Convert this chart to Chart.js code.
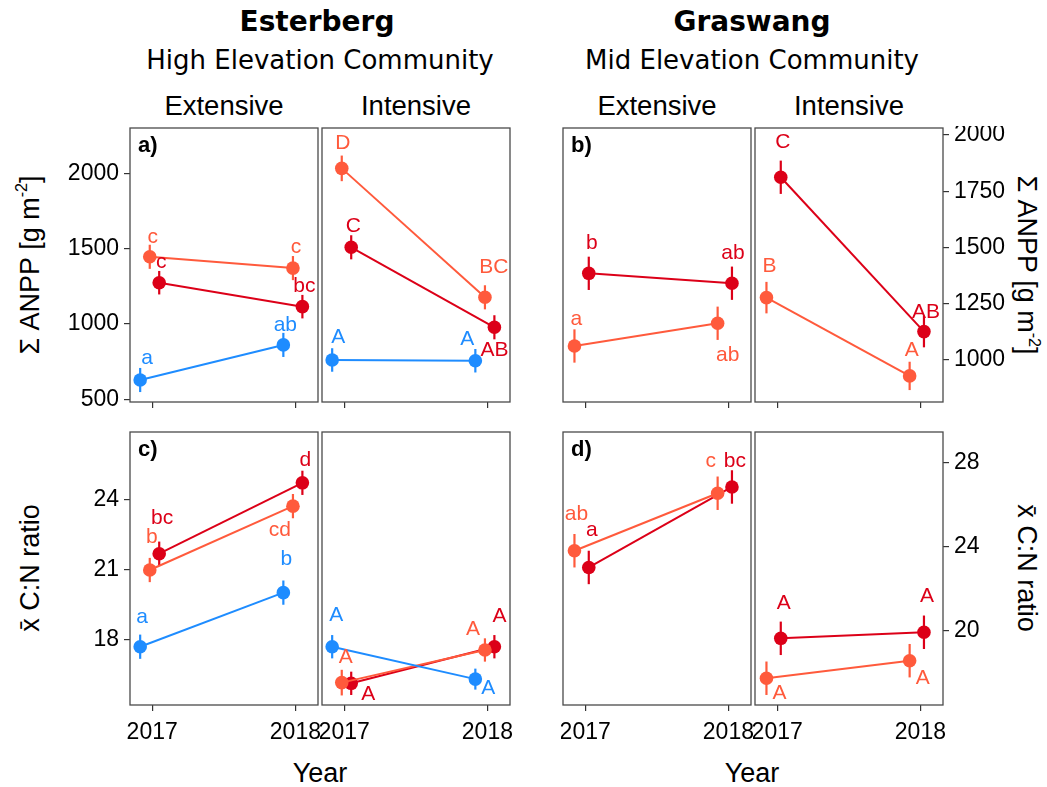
<!DOCTYPE html>
<html>
<head>
<meta charset="utf-8">
<script src="https://cdn.jsdelivr.net/npm/chart.js@4.4.0/dist/chart.umd.min.js"></script>
<style>
  body { margin: 0; background: #fff; width: 1047px; height: 787px; position: relative; overflow: hidden;
         font-family: "Liberation Sans", Arial, sans-serif; color: #000; }
  .t { position: absolute; white-space: nowrap; transform: translate(-50%, -50%); line-height: 1; }
  .title { font-family: "DejaVu Sans", sans-serif; font-weight: bold; font-size: 28px; }
  .sub { font-family: "DejaVu Sans", sans-serif; font-size: 26px; }
  .strip { font-size: 27.5px; }
  .ax { font-size: 27px; }
  .rotL { transform: translate(-50%, -50%) rotate(-90deg); }
  .rotR { transform: translate(-50%, -50%) rotate(90deg); }
  sup { font-size: 60%; vertical-align: 0.7em; line-height: 0; }
  canvas { position: absolute; }
</style>
</head>
<body>
<div class="t title" style="left:317px;top:22px">Esterberg</div>
<div class="t sub" style="left:320px;top:60px">High Elevation Community</div>
<div class="t title" style="left:752px;top:22px">Graswang</div>
<div class="t sub" style="left:752px;top:60px">Mid Elevation Community</div>
<div class="t strip" style="left:224px;top:106px">Extensive</div>
<div class="t strip" style="left:416px;top:106px">Intensive</div>
<div class="t strip" style="left:657px;top:106px">Extensive</div>
<div class="t strip" style="left:849px;top:106px">Intensive</div>
<div class="t ax" style="left:320px;top:773px">Year</div>
<div class="t ax" style="left:752px;top:773px">Year</div>
<div class="t ax rotL" style="left:30px;top:265px">Σ ANPP [g m<sup>-2</sup>]</div>
<div class="t ax rotL" style="left:30px;top:568px">x̄ C:N ratio</div>
<div class="t ax rotR" style="left:1026px;top:265px">Σ ANPP [g m<sup>-2</sup>]</div>
<div class="t ax rotR" style="left:1026px;top:568px">x̄ C:N ratio</div>
<script>
// series order in every panel: blue, light red, dark red (Graswang has no blue series)
const years = [2017, 2018];
const seriesColors = ['#1E8CFF', '#FF5A3C', '#DC0018'];

// Σ ANPP [g m-2]
const estExtAnpp = [[628, 861], [1446, 1371], [1274, 1115]];
const estIntAnpp = [[761, 756], [2033, 1177], [1509, 978]];
const graExtAnpp = [null, [1062, 1163], [1385, 1341]];
const graIntAnpp = [null, [1277, 929], [1812, 1126]];
const estExtAnppSe = [[80, 80], [80, 80], [78, 78]];
const estIntAnppSe = [[78, 78], [85, 80], [80, 80]];
const graExtAnppSe = [null, [74, 74], [74, 74]];
const graIntAnppSe = [null, [70, 63], [74, 70]];
const estExtAnppLab = [['a', 'ab'], ['c', 'c'], ['c', 'bc']];
const estIntAnppLab = [['A', 'A'], ['D', 'BC'], ['C', 'AB']];
const graExtAnppLab = [null, ['a', 'ab'], ['b', 'ab']];
const graIntAnppLab = [null, ['B', 'A'], ['C', 'AB']];

// mean C:N ratio
const estExtCn = [[17.71, 20.03], [21.0, 23.74], [21.7, 24.74]];
const estIntCn = [[17.71, 16.32], [16.17, 17.57], [16.14, 17.71]];
const graExtCn = [null, [23.8, 26.55], [23.0, 26.85]];
const graIntCn = [null, [17.7, 18.54], [19.61, 19.9]];
const estExtCnSe = [[0.52, 0.52], [0.52, 0.52], [0.52, 0.52]];
const estIntCnSe = [[0.5, 0.45], [0.55, 0.5], [0.5, 0.5]];
const graExtCnSe = [null, [0.8, 0.8], [0.8, 0.8]];
const graIntCnSe = [null, [0.8, 0.8], [0.8, 0.8]];
const estExtCnLab = [['a', 'b'], ['b', 'cd'], ['bc', 'd']];
const estIntCnLab = [['A', 'A'], ['A', 'A'], ['A', 'A']];
const graExtCnLab = [null, ['ab', 'c'], ['a', 'bc']];
const graIntCnLab = [null, ['A', 'A'], ['A', 'A']];

// axis ranges and ticks
const anppEstRange = [482, 2301], anppEstTicks = [500, 1000, 1500, 2000];
const anppGraRange = [813, 2031], anppGraTicks = [1000, 1250, 1500, 1750, 2000];
const cnEstRange = [15.21, 26.92], cnEstTicks = [18, 21, 24];
const cnGraRange = [16.42, 29.48], cnGraTicks = [20, 24, 28];
const xRange = [2016.845, 2018.158];

// dodge (in years) and letter offsets (in px) -- layout only
const dodgeEst = [-0.084, -0.017, 0.049];
const dodgeGra = [null, -0.075, 0.025];
const offEstExtAnpp = [[[7, -22], [2, -20]], [[3, -20], [3, -21]], [[2, -20], [2, -20]]];
const offEstIntAnpp = [[[6, -23], [-8, -22]], [[1, -25], [9, -30]], [[2, -21], [0, 23]]];
const offGraExtAnpp = [null, [[2, -27], [10, 32]], [[3, -30], [1, -30]]];
const offGraIntAnpp = [null, [[3, -31], [2, -26]], [[2, -35], [2, -19]]];
const offEstExtCn = [[[2, -30], [3, -33]], [[2, -33], [-13, 24]], [[3, -35], [3, -23]]];
const offEstIntCn = [[[4, -32], [13, 9]], [[4, -25], [-12, -21]], [[17, 11], [5, -31]]];
const offGraExtCn = [null, [[2, -37], [-7, -32]], [[3, -37], [3, -26]]];
const offGraIntCn = [null, [[13, 15], [13, 18]], [[3, -35], [3, -36]]];

const panels = [
  { box: [130, 128, 318, 402], vals: estExtAnpp, se: estExtAnppSe, labs: estExtAnppLab, off: offEstExtAnpp, yr: anppEstRange, yt: anppEstTicks, axis: 'left', tag: 'a)', dodge: dodgeEst, xlab: false },
  { box: [322, 128, 510, 402], vals: estIntAnpp, se: estIntAnppSe, labs: estIntAnppLab, off: offEstIntAnpp, yr: anppEstRange, yt: anppEstTicks, axis: null, tag: '', dodge: dodgeEst, xlab: false },
  { box: [563, 128, 751, 402], vals: graExtAnpp, se: graExtAnppSe, labs: graExtAnppLab, off: offGraExtAnpp, yr: anppGraRange, yt: anppGraTicks, axis: null, tag: 'b)', dodge: dodgeGra, xlab: false },
  { box: [755, 128, 943, 402], vals: graIntAnpp, se: graIntAnppSe, labs: graIntAnppLab, off: offGraIntAnpp, yr: anppGraRange, yt: anppGraTicks, axis: 'right', tag: '', dodge: dodgeGra, xlab: false },
  { box: [130, 432, 318, 705], vals: estExtCn, se: estExtCnSe, labs: estExtCnLab, off: offEstExtCn, yr: cnEstRange, yt: cnEstTicks, axis: 'left', tag: 'c)', dodge: dodgeEst, xlab: true },
  { box: [322, 432, 510, 705], vals: estIntCn, se: estIntCnSe, labs: estIntCnLab, off: offEstIntCn, yr: cnEstRange, yt: cnEstTicks, axis: null, tag: '', dodge: dodgeEst, xlab: true },
  { box: [563, 432, 751, 705], vals: graExtCn, se: graExtCnSe, labs: graExtCnLab, off: offGraExtCn, yr: cnGraRange, yt: cnGraTicks, axis: null, tag: 'd)', dodge: dodgeGra, xlab: true },
  { box: [755, 432, 943, 705], vals: graIntCn, se: graIntCnSe, labs: graIntCnLab, off: offGraIntCn, yr: cnGraRange, yt: cnGraTicks, axis: 'right', tag: '', dodge: dodgeGra, xlab: true }
];

const PAD = 2, AXW = 120, XAXH = 48, XTICKH = 10;

const decor = {
  id: 'decor',
  beforeDatasetsDraw(chart) {
    const { ctx, scales: { x, y } } = chart;
    ctx.save();
    chart.data.datasets.forEach(ds => {
      ctx.strokeStyle = ds.borderColor;
      ctx.lineWidth = 2.2;
      ds.data.forEach(pt => {
        const px = x.getPixelForValue(pt.x);
        ctx.beginPath();
        ctx.moveTo(px, y.getPixelForValue(pt.y - pt.e));
        ctx.lineTo(px, y.getPixelForValue(pt.y + pt.e));
        ctx.stroke();
      });
    });
    ctx.restore();
  },
  afterDatasetsDraw(chart) {
    const { ctx, scales: { x, y } } = chart;
    ctx.save();
    ctx.font = '21px "Liberation Sans", Arial, sans-serif';
    ctx.textAlign = 'center';
    ctx.textBaseline = 'middle';
    chart.data.datasets.forEach(ds => {
      ctx.fillStyle = ds.borderColor;
      ds.data.forEach(pt => {
        ctx.fillText(pt.lab, x.getPixelForValue(pt.x) + pt.dx, y.getPixelForValue(pt.y) + pt.dy);
      });
    });
    ctx.restore();
  },
  afterDraw(chart) {
    const { ctx, chartArea: a } = chart;
    const tag = chart.options.plugins.decor.tag;
    ctx.save();
    ctx.strokeStyle = '#4a4a4a';
    ctx.lineWidth = 1.3;
    ctx.strokeRect(a.left, a.top, a.right - a.left, a.bottom - a.top);
    if (tag) {
      ctx.fillStyle = '#000';
      ctx.font = 'bold 22px "Liberation Sans", Arial, sans-serif';
      ctx.textAlign = 'left';
      ctx.textBaseline = 'middle';
      ctx.fillText(tag, a.left + 8, a.top + 18);
    }
    ctx.restore();
  }
};

panels.forEach(p => {
  const [l, t, r, b] = p.box;
  const leftW = p.axis === 'left' ? AXW : 0;
  const rightW = p.axis === 'right' ? AXW : 0;
  const xh = p.xlab ? XAXH : XTICKH;
  const cv = document.createElement('canvas');
  cv.width = (r - l) + leftW + rightW + 2 * PAD;
  cv.height = (b - t) + xh + PAD;
  cv.style.left = (l - PAD - leftW) + 'px';
  cv.style.top = (t - PAD) + 'px';
  document.body.appendChild(cv);

  const datasets = [];
  p.vals.forEach((vals, s) => {
    if (!vals) return;
    datasets.push({
      data: years.map((yr, i) => ({
        x: yr + p.dodge[s], y: vals[i], e: p.se[s][i],
        lab: p.labs[s][i], dx: p.off[s][i][0], dy: p.off[s][i][1]
      })),
      borderColor: seriesColors[s],
      backgroundColor: seriesColors[s],
      borderWidth: 2,
      pointRadius: 6.8,
      pointBorderWidth: 0,
      pointBackgroundColor: seriesColors[s]
    });
  });

  const tickFont = { family: '"Liberation Sans", Arial, sans-serif', size: 23 };
  new Chart(cv.getContext('2d'), {
    type: 'line',
    data: { datasets },
    options: {
      responsive: false,
      animation: false,
      layout: { autoPadding: false, padding: { top: PAD, left: PAD, right: PAD, bottom: 0 } },
      plugins: { legend: { display: false }, tooltip: { enabled: false }, decor: { tag: p.tag } },
      scales: {
        x: {
          type: 'linear', min: xRange[0], max: xRange[1],
          afterBuildTicks: s => { s.ticks = years.map(v => ({ value: v })); },
          afterFit: s => { s.height = xh; s.paddingLeft = 0; s.paddingRight = 0; },
          ticks: { display: p.xlab, color: '#000', font: tickFont, padding: 8, maxRotation: 0, callback: v => String(v) },
          grid: { drawOnChartArea: false, drawTicks: true, tickLength: 6, color: '#333', lineWidth: 1.2 },
          border: { display: false }
        },
        y: {
          type: 'linear', display: !!p.axis, position: p.axis || 'left',
          min: p.yr[0], max: p.yr[1],
          afterBuildTicks: s => { s.ticks = p.yt.map(v => ({ value: v })); },
          afterFit: s => { s.width = p.axis ? AXW : 0; s.paddingTop = 0; s.paddingBottom = 0; },
          ticks: { color: '#000', font: tickFont, padding: 5, callback: v => String(v) },
          grid: { drawOnChartArea: false, drawTicks: true, tickLength: 6, color: '#333', lineWidth: 1.2 },
          border: { display: false }
        }
      }
    },
    plugins: [decor]
  });
});
</script>
</body>
</html>
